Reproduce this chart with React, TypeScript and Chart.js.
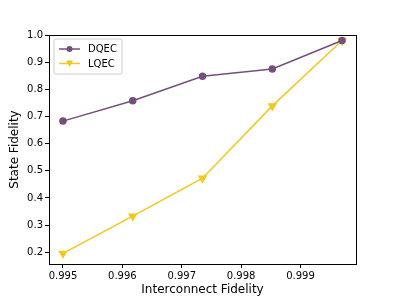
import React, { useEffect, useRef } from "react";
import { Chart, registerables } from "chart.js";

Chart.register(...registerables);

const xValues = [0.995, 0.996175, 0.99735, 0.998525, 0.9997];
const dqec = [0.683, 0.758, 0.848, 0.875, 0.98];
const lqec = [0.196, 0.333, 0.473, 0.739, 0.98];
const xTicks = [0.995, 0.996, 0.997, 0.998, 0.999];
const yTicks = [0.2, 0.3, 0.4, 0.5, 0.6, 0.7, 0.8, 0.9, 1.0];
const seriesNames = ["DQEC", "LQEC"];

const PURPLE = "#764e7c";
const YELLOW = "#f2c81c";
const FONT = "'DejaVu Sans', sans-serif";

const boxLegend = {
  id: "boxLegend",
  afterDatasetsDraw(chart: any) {
    const { ctx, chartArea } = chart;
    ctx.save();
    ctx.strokeStyle = "#000";
    ctx.lineWidth = 1;
    ctx.strokeRect(
      Math.round(chartArea.left) + 0.5,
      Math.round(chartArea.top) + 0.5,
      Math.round(chartArea.right - chartArea.left),
      Math.round(chartArea.bottom - chartArea.top)
    );
    // legend
    const lx = chartArea.left + 5;
    const ly = chartArea.top + 4;
    const w = 68;
    const h = 35;
    ctx.fillStyle = "rgba(255,255,255,0.8)";
    ctx.strokeStyle = "#cccccc";
    ctx.beginPath();
    const r = 2;
    ctx.moveTo(lx + r, ly);
    ctx.arcTo(lx + w, ly, lx + w, ly + h, r);
    ctx.arcTo(lx + w, ly + h, lx, ly + h, r);
    ctx.arcTo(lx, ly + h, lx, ly, r);
    ctx.arcTo(lx, ly, lx + w, ly, r);
    ctx.closePath();
    ctx.fill();
    ctx.stroke();
    const items = [
      { name: seriesNames[0], color: PURPLE, style: "circle" },
      { name: seriesNames[1], color: YELLOW, style: "tri" },
    ];
    items.forEach((it, i) => {
      const y = ly + 10 + i * 14.5;
      ctx.strokeStyle = it.color;
      ctx.lineWidth = 1.5;
      ctx.beginPath();
      ctx.moveTo(lx + 5, y);
      ctx.lineTo(lx + 26, y);
      ctx.stroke();
      ctx.fillStyle = it.color;
      const cx = lx + 15.5;
      ctx.beginPath();
      if (it.style === "circle") {
        ctx.arc(cx, y, 3, 0, Math.PI * 2);
      } else {
        ctx.moveTo(cx - 3.5, y - 3);
        ctx.lineTo(cx + 3.5, y - 3);
        ctx.lineTo(cx, y + 3.5);
        ctx.closePath();
      }
      ctx.fill();
      ctx.fillStyle = "#000";
      ctx.font = `10px ${FONT}`;
      ctx.textBaseline = "middle";
      ctx.textAlign = "left";
      ctx.fillText(it.name, lx + 34, y + 0.5);
    });
    ctx.restore();
  },
};

export default function App() {
  const ref = useRef<HTMLCanvasElement>(null);
  useEffect(() => {
    const chart = new Chart(ref.current!, {
      type: "scatter",
      data: {
        datasets: [
          {
            label: seriesNames[0],
            data: xValues.map((x, i) => ({ x, y: dqec[i] })),
            showLine: true,
            borderColor: PURPLE,
            backgroundColor: PURPLE,
            borderWidth: 1.5,
            pointRadius: 3,
            pointStyle: "circle",
          },
          {
            label: seriesNames[1],
            data: xValues.map((x, i) => ({ x, y: lqec[i] })),
            showLine: true,
            borderColor: YELLOW,
            backgroundColor: YELLOW,
            borderWidth: 1.5,
            pointRadius: 4,
            pointStyle: "triangle",
            rotation: 180,
          },
        ],
      },
      options: {
        animation: false,
        responsive: false,
        devicePixelRatio: 1,
        layout: { padding: { left: 0, top: 35, right: 40, bottom: 0 } },
        plugins: { legend: { display: false }, tooltip: { enabled: false } },
        scales: {
          x: {
            type: "linear",
            min: 0.994765,
            max: 0.999935,
            afterBuildTicks: (s: any) => {
              s.ticks = xTicks.map((v) => ({ value: v }));
            },
            afterFit: (s: any) => {
              s.height = 33;
            },
            ticks: {
              color: "#000",
              font: { family: FONT, size: 10 },
              padding: 2,
              maxRotation: 0,
              callback: (v: any) => Number(v).toFixed(3),
            },
            grid: { drawOnChartArea: false, drawTicks: true, tickLength: 4, color: "#000" },
            border: { display: true, color: "#000" },
            title: {
              display: true,
              text: "Interconnect Fidelity",
              color: "#000",
              font: { family: FONT, size: 12 },
              padding: { top: 0, bottom: 0 },
            },
          },
          y: {
            type: "linear",
            min: 0.157,
            max: 1.0,
            afterBuildTicks: (s: any) => {
              s.ticks = yTicks.map((v) => ({ value: v }));
            },
            afterFit: (s: any) => {
              s.width = 49;
            },
            ticks: {
              color: "#000",
              font: { family: FONT, size: 10 },
              padding: 2,
              callback: (v: any) => Number(v).toFixed(1),
            },
            grid: { drawOnChartArea: false, drawTicks: true, tickLength: 4, color: "#000" },
            border: { display: true, color: "#000" },
            title: {
              display: true,
              text: "State Fidelity",
              color: "#000",
              font: { family: FONT, size: 12 },
              padding: { top: 8, bottom: 0 },
            },
          },
        },
      },
      plugins: [boxLegend],
    } as any);
    return () => chart.destroy();
  }, []);
  return (
    <div style={{ position: "fixed", left: 0, top: 0, width: 396, height: 297, background: "#fff" }}>
      <canvas ref={ref} width={396} height={297} style={{ width: 396, height: 297, display: "block" }} />
    </div>
  );
}
